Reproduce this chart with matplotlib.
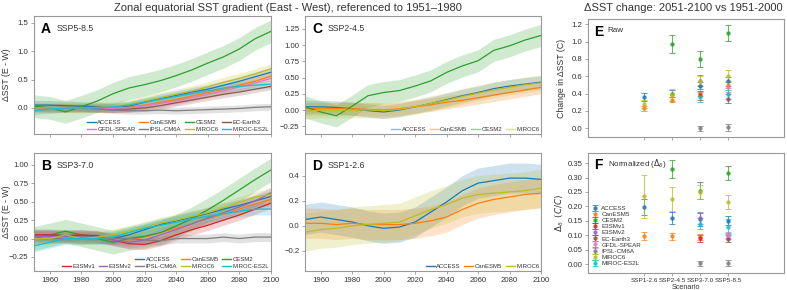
import matplotlib
matplotlib.use("Agg")
import matplotlib.pyplot as plt
from matplotlib.lines import Line2D
import numpy as np

plt.rcParams['font.family'] = ['Liberation Sans', 'DejaVu Sans']
plt.rcParams['mathtext.fontset'] = 'dejavusans'

# ---------------- data ----------------
YEARS = [1950, 1960, 1970, 1980, 1990, 2000, 2010, 2020, 2030, 2040, 2050, 2060, 2070, 2080, 2090, 2100]

COLORS = {
    'ACCESS': '#1f77b4', 'CanESM5': '#ff7f0e', 'CESM2': '#2ca02c', 'E3SMv1': '#d62728',
    'E3SMv2': '#9467bd', 'EC-Earth3': '#8c564b', 'GFDL-SPEAR': '#e377c2', 'IPSL-CM6A': '#7f7f7f',
    'MIROC6': '#bcbd22', 'MIROC-ES2L': '#17becf',
}
MODELS = list(COLORS.keys())

SSP585 = {
    'ACCESS':     [0.05, 0.05, 0.04, 0.03, 0.02, 0.00, 0.03, 0.10, 0.17, 0.22, 0.28, 0.33, 0.40, 0.47, 0.55, 0.63],
    'CanESM5':    [0.01, 0.00, 0.00, 0.00, 0.00, 0.00, 0.01, 0.05, 0.10, 0.15, 0.21, 0.27, 0.33, 0.40, 0.47, 0.56],
    'CESM2':      [0.03, 0.00, -0.07, 0.02, 0.12, 0.25, 0.35, 0.41, 0.48, 0.57, 0.67, 0.79, 0.90, 1.04, 1.22, 1.35],
    'EC-Earth3':  [0.00, 0.00, 0.01, 0.00, -0.01, -0.02, -0.02, 0.00, 0.04, 0.09, 0.14, 0.19, 0.24, 0.28, 0.33, 0.38],
    'GFDL-SPEAR': [0.00, -0.02, -0.01, 0.00, 0.00, -0.01, 0.00, 0.04, 0.08, 0.12, 0.18, 0.24, 0.30, 0.37, 0.44, 0.52],
    'IPSL-CM6A':  [0.00, 0.00, 0.00, 0.00, -0.02, -0.04, -0.05, -0.05, -0.04, -0.05, -0.04, -0.03, -0.02, -0.01, 0.01, 0.02],
    'MIROC6':     [0.00, 0.00, 0.01, 0.00, 0.01, 0.02, 0.06, 0.12, 0.18, 0.24, 0.30, 0.37, 0.45, 0.52, 0.60, 0.69],
    'MIROC-ES2L': [-0.05, -0.02, 0.00, 0.00, 0.00, 0.02, 0.05, 0.10, 0.15, 0.20, 0.25, 0.30, 0.35, 0.38, 0.40, 0.42],
}
SSP585_SPREAD = {'ACCESS': 0.08, 'CanESM5': 0.08, 'CESM2': 0.2, 'EC-Earth3': 0.06, 'GFDL-SPEAR': 0.07,
                 'IPSL-CM6A': 0.06, 'MIROC6': 0.09, 'MIROC-ES2L': 0.07}

SSP370 = {
    'ACCESS':     [0.05, 0.05, 0.04, 0.04, 0.02, 0.00, 0.05, 0.12, 0.19, 0.24, 0.29, 0.34, 0.40, 0.45, 0.51, 0.57],
    'CanESM5':    [0.02, 0.02, 0.02, 0.01, 0.01, 0.00, -0.02, 0.02, 0.08, 0.14, 0.20, 0.27, 0.33, 0.40, 0.47, 0.53],
    'CESM2':      [0.00, 0.05, 0.10, 0.05, 0.00, -0.05, 0.00, 0.03, 0.08, 0.17, 0.27, 0.39, 0.52, 0.66, 0.80, 0.93],
    'E3SMv1':     [0.05, 0.05, 0.04, 0.05, 0.04, -0.02, -0.07, -0.08, -0.03, 0.05, 0.12, 0.18, 0.25, 0.32, 0.40, 0.48],
    'E3SMv2':     [0.03, 0.03, 0.03, 0.02, 0.02, -0.02, -0.05, -0.02, 0.05, 0.12, 0.20, 0.28, 0.35, 0.43, 0.51, 0.62],
    'IPSL-CM6A':  [0.00, 0.00, 0.00, 0.00, 0.00, 0.00, 0.00, -0.02, -0.03, 0.00, 0.00, 0.00, 0.02, 0.00, 0.02, 0.02],
    'MIROC6':     [0.00, 0.00, 0.05, 0.00, 0.02, 0.05, 0.10, 0.15, 0.21, 0.25, 0.30, 0.35, 0.42, 0.49, 0.56, 0.60],
    'MIROC-ES2L': [-0.10, -0.05, 0.00, 0.00, 0.00, 0.02, 0.08, 0.14, 0.18, 0.22, 0.27, 0.30, 0.34, 0.37, 0.40, 0.40],
}
SSP370_SPREAD = {'ACCESS': 0.08, 'CanESM5': 0.08, 'CESM2': 0.16, 'E3SMv1': 0.07, 'E3SMv2': 0.08,
                 'IPSL-CM6A': 0.06, 'MIROC6': 0.08, 'MIROC-ES2L': 0.08}

SSP245 = {
    'ACCESS':     [0.05, 0.05, 0.04, 0.02, -0.01, -0.03, 0.00, 0.05, 0.10, 0.16, 0.22, 0.27, 0.33, 0.37, 0.40, 0.43],
    'CanESM5':    [0.02, 0.02, 0.02, 0.02, 0.01, 0.00, 0.02, 0.05, 0.08, 0.12, 0.15, 0.19, 0.23, 0.27, 0.31, 0.35],
    'CESM2':      [0.05, -0.03, -0.09, 0.06, 0.22, 0.27, 0.30, 0.37, 0.45, 0.58, 0.68, 0.76, 0.92, 0.99, 1.08, 1.15],
    'MIROC6':     [-0.02, 0.00, 0.00, 0.00, 0.00, -0.01, 0.01, 0.05, 0.10, 0.15, 0.21, 0.26, 0.31, 0.35, 0.39, 0.42],
}
SSP245_SPREAD = {'ACCESS': 0.1, 'CanESM5': 0.1, 'CESM2': 0.17, 'MIROC6': 0.12}

SSP126 = {
    'ACCESS':     [0.05, 0.07, 0.05, 0.03, 0.00, -0.02, -0.01, 0.03, 0.11, 0.19, 0.28, 0.34, 0.36, 0.38, 0.38, 0.37],
    'CanESM5':    [0.02, 0.02, 0.01, 0.02, 0.01, 0.01, 0.01, 0.02, 0.04, 0.07, 0.13, 0.18, 0.21, 0.23, 0.25, 0.26],
    'MIROC6':     [-0.05, -0.03, -0.02, 0.00, 0.01, 0.02, 0.03, 0.08, 0.13, 0.17, 0.22, 0.25, 0.26, 0.27, 0.28, 0.30],
}
SSP126_SPREAD = {'ACCESS': 0.12, 'CanESM5': 0.12, 'MIROC6': 0.15}

SCENARIOS = ['SSP1-2.6', 'SSP2-4.5', 'SSP3-7.0', 'SSP5-8.5']
N = None
RAW_MEAN = {
    'ACCESS': [0.36, 0.40, 0.49, 0.54], 'CanESM5': [0.23, 0.33, 0.41, 0.50], 'CESM2': [N, 0.97, 0.80, 1.10],
    'E3SMv1': [N, N, 0.38, N], 'E3SMv2': [N, N, 0.55, N], 'EC-Earth3': [N, N, N, 0.34],
    'GFDL-SPEAR': [N, N, N, 0.48], 'IPSL-CM6A': [N, N, 0.00, 0.01], 'MIROC6': [0.28, 0.38, 0.55, 0.60],
    'MIROC-ES2L': [N, N, 0.36, 0.39],
}
RAW_ERR = {
    'ACCESS': [0.05, 0.04, 0.04, 0.05], 'CanESM5': [0.03, 0.03, 0.04, 0.03], 'CESM2': [N, 0.10, 0.09, 0.09],
    'E3SMv1': [N, N, 0.05, N], 'E3SMv2': [N, N, 0.06, N], 'EC-Earth3': [N, N, N, 0.05],
    'GFDL-SPEAR': [N, N, N, 0.06], 'IPSL-CM6A': [N, N, 0.03, 0.04], 'MIROC6': [0.05, 0.07, 0.05, 0.07],
    'MIROC-ES2L': [N, N, 0.06, 0.05],
}
NORM_MEAN = {
    'ACCESS': [0.197, 0.160, 0.155, 0.150], 'CanESM5': [0.097, 0.097, 0.095, 0.097], 'CESM2': [N, 0.330, 0.255, 0.315],
    'E3SMv1': [N, N, 0.090, N], 'E3SMv2': [N, N, 0.160, N], 'EC-Earth3': [N, N, N, 0.088],
    'GFDL-SPEAR': [N, N, N, 0.100], 'IPSL-CM6A': [N, N, 0.002, 0.003], 'MIROC6': [0.235, 0.225, 0.250, 0.215],
    'MIROC-ES2L': [N, N, 0.140, 0.130],
}
NORM_ERR = {
    'ACCESS': [0.027, 0.020, 0.022, 0.015], 'CanESM5': [0.014, 0.012, 0.010, 0.010], 'CESM2': [N, 0.032, 0.028, 0.025],
    'E3SMv1': [N, N, 0.012, N], 'E3SMv2': [N, N, 0.020, N], 'EC-Earth3': [N, N, N, 0.013],
    'GFDL-SPEAR': [N, N, N, 0.010], 'IPSL-CM6A': [N, N, 0.008, 0.010], 'MIROC6': [0.075, 0.042, 0.025, 0.025],
    'MIROC-ES2L': [N, N, 0.020, 0.025],
}

# ---------------- figure ----------------
fig = plt.figure(figsize=(7.87, 2.90), dpi=100)
W, H = 787.0, 290.0

def ax_px(x0, y0, x1, y1):
    return fig.add_axes([x0 / W, 1 - y1 / H, (x1 - x0) / W, (y1 - y0) / H])

axA = ax_px(34, 16, 271, 134)
axB = ax_px(34, 153, 271, 271)
axC = ax_px(305, 16, 541, 134)
axD = ax_px(305, 153, 541, 271)
axE = ax_px(588, 19, 784, 137)
axF = ax_px(588, 153, 784, 273)

SPINE = '#999999'
TXT = '#333333'
FS = 5.6

def style(ax):
    for s in ax.spines.values():
        s.set_color(SPINE)
        s.set_linewidth(0.8)
    ax.tick_params(colors=SPINE, labelcolor=TXT, labelsize=FS, length=2.5, width=0.6, pad=1.5)

def ts_panel(ax, data, spread, ylim, yticks, fmt, letter, scen, xlabels):
    yrs = np.array(YEARS)
    for m, vals in data.items():
        v = np.array(vals)
        c = COLORS[m]
        ax.fill_between(yrs, v - spread[m], v + spread[m], color=c, alpha=0.22, lw=0)
    for m, vals in data.items():
        ax.plot(yrs, vals, color=COLORS[m], lw=0.9)
    ax.set_xlim(1950, 2100)
    ax.set_ylim(*ylim)
    ax.set_yticks(yticks)
    ax.set_yticklabels([fmt.format(t).replace('-', '\u2212') for t in yticks])
    ax.set_xticks(range(1960, 2101, 20))
    if not xlabels:
        ax.set_xticklabels([])
    ax.text(0.03, 0.89, letter, transform=ax.transAxes, fontsize=10, fontweight='bold', va='center', color='black')
    ax.text(0.095, 0.89, scen, transform=ax.transAxes, fontsize=6.3, va='center', color=TXT)
    style(ax)

ts_panel(axA, SSP585, SSP585_SPREAD, (-0.46, 1.62), [0.0, 0.5, 1.0, 1.5], '{:.1f}', 'A', 'SSP5-8.5', False)
ts_panel(axB, SSP370, SSP370_SPREAD, (-0.44, 1.16), [-0.25, 0.0, 0.25, 0.5, 0.75, 1.0], '{:.2f}', 'B', 'SSP3-7.0', True)
ts_panel(axC, SSP245, SSP245_SPREAD, (-0.37, 1.45), [-0.25, 0.0, 0.25, 0.5, 0.75, 1.0, 1.25], '{:.2f}', 'C', 'SSP2-4.5', False)
ts_panel(axD, SSP126, SSP126_SPREAD, (-0.36, 0.58), [-0.2, 0.0, 0.2, 0.4], '{:.1f}', 'D', 'SSP1-2.6', True)

for ax in (axA, axB):
    ax.set_ylabel('\u0394SST (E - W)', fontsize=6.3, color=TXT)
    ax.yaxis.set_label_coords((11.5 - 34) / 237, 0.5)

def h(m, alpha=1.0):
    return Line2D([], [], color=COLORS[m], lw=1.0, alpha=alpha)

leg_kw = dict(frameon=False, fontsize=4.3, handlelength=1.5, handletextpad=0.25, columnspacing=0.6,
              labelspacing=0.28, borderaxespad=0.15, borderpad=0.15, labelcolor=TXT)

orderA = ['ACCESS', 'GFDL-SPEAR', 'CanESM5', 'IPSL-CM6A', 'CESM2', 'MIROC6', 'EC-Earth3', 'MIROC-ES2L']
axA.legend([h(m) for m in orderA], orderA, loc='lower right', ncol=4, **leg_kw)

blank = Line2D([], [], lw=0)
orderB = [None, 'E3SMv1', None, 'E3SMv2', 'ACCESS', 'IPSL-CM6A', 'CanESM5', 'MIROC6', 'CESM2', 'MIROC-ES2L']
axB.legend([blank if m is None else h(m) for m in orderB], ['' if m is None else m for m in orderB],
           loc='lower right', ncol=5, **leg_kw)

orderC = ['ACCESS', 'CanESM5', 'CESM2', 'MIROC6']
axC.legend([h(m, 0.5) for m in orderC], orderC, loc='lower right', ncol=4, **leg_kw)
orderD = ['ACCESS', 'CanESM5', 'MIROC6']
axD.legend([h(m) for m in orderD], orderD, loc='lower right', ncol=3, **leg_kw)

# ---------------- E / F ----------------
def pt_panel(ax, mean, err, ylim, yticks, fmt):
    hs = []
    for m in MODELS:
        xs, ys, es = [], [], []
        for i, (v, e) in enumerate(zip(mean[m], err[m])):
            if v is not None:
                xs.append(i); ys.append(v); es.append(e)
        eb = ax.errorbar(xs, ys, yerr=es, fmt='o', ms=2.2, color=COLORS[m], ecolor=COLORS[m],
                         elinewidth=0.8, capsize=2.2, capthick=0.7, alpha=0.75, label=m)
        hs.append(eb)
    ax.set_xlim(-2, 5)
    ax.set_ylim(*ylim)
    ax.set_yticks(yticks)
    ax.set_yticklabels([fmt.format(t) for t in yticks])
    ax.set_xticks(range(4))
    style(ax)
    return hs

pt_panel(axE, RAW_MEAN, RAW_ERR, (-0.1, 1.26), [0.0, 0.2, 0.4, 0.6, 0.8, 1.0, 1.2], '{:.1f}')
axE.set_xticklabels([])
axE.set_ylabel('Change in \u0394SST (C)', fontsize=6.3, color=TXT)
axE.yaxis.set_label_coords((565.5 - 588) / 196, 0.5)
axE.text(0.03, 0.89, 'E', transform=axE.transAxes, fontsize=10, fontweight='bold', va='center')
axE.text(0.1, 0.9, 'Raw', transform=axE.transAxes, fontsize=5.8, va='center', color=TXT)

hsF = pt_panel(axF, NORM_MEAN, NORM_ERR, (-0.031, 0.385), [0.0, 0.05, 0.1, 0.15, 0.2, 0.25, 0.3, 0.35], '{:.2f}')
axF.set_xticklabels(SCENARIOS)
axF.tick_params(axis='x', labelsize=4.6, pad=1.2)
axF.set_xlabel('Scenario', fontsize=5.2, color=TXT, labelpad=0.5)
axF.set_ylabel(r'$\Delta_\delta$  $(C/C)$', fontsize=6.3, color=TXT)
axF.yaxis.set_label_coords((565.5 - 588) / 196, 0.5)
axF.text(0.03, 0.9, 'F', transform=axF.transAxes, fontsize=10, fontweight='bold', va='center')
axF.text(0.1, 0.91, r'Normalized ($\Delta_\delta$)', transform=axF.transAxes, fontsize=5.8, va='center', color=TXT)
axF.legend(hsF, MODELS, loc='center left', bbox_to_anchor=(0.0, 0.31), frameon=False, fontsize=4.5,
           handlelength=1.0, handletextpad=0.5, labelspacing=0.12, borderaxespad=0.2, labelcolor=TXT)

fig.text(288 / W, 1 - 8 / H, 'Zonal equatorial SST gradient (East - West), referenced to 1951\u20131980',
         ha='center', va='center', fontsize=8.0, color=TXT)
fig.text(683 / W, 1 - 8 / H, '\u0394SST change: 2051-2100 vs 1951-2000', ha='center', va='center',
         fontsize=8.0, color=TXT)

fig.savefig('out.png', dpi=100)
